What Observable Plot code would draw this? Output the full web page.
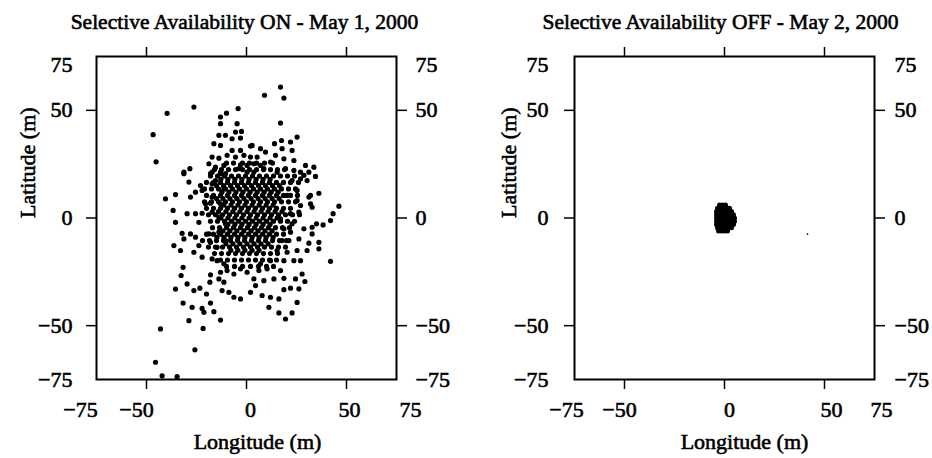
<!DOCTYPE html>
<html><head><meta charset="utf-8">
<script src="https://cdn.jsdelivr.net/npm/d3@7"></script>
<script src="https://cdn.jsdelivr.net/npm/@observablehq/plot@0.6"></script>
<style>
html,body{margin:0;padding:0;background:#fff;overflow:hidden;width:932px;height:458px}
#wrap{position:relative;width:932px;height:458px}
.panel{position:absolute;top:0;width:466px;height:458px}
.panel svg{max-width:none !important}
.panel svg text{font-family:"Liberation Serif","Times New Roman",serif;fill:#000;stroke:#000;stroke-width:0.6px}
</style></head>
<body><div id="wrap"><div class="panel" id="p1" style="left:0"></div><div class="panel" id="p2" style="left:466px"></div></div>
<script>
// ---------- data ----------
const titleOn = "Selective Availability ON - May 1, 2000";
const titleOff = "Selective Availability OFF - May 2, 2000";
const xAxisTitle = "Longitude (m)";
const yAxisTitle = "Latitude (m)";
const domain = [-75, 75];
const majorTicks = [-50, 0, 50];
const tickLabels = [-75, -50, 0, 50, 75];

// SA ON: scattered fixes [longitude, latitude] in metres
const saOnOuter = [
  [17,60.8],[9,57],[18.7,55.7],[-26.3,51.5],[-39.7,48.6],[-46.7,38.7],[-45.2,26.1],[17,44.1],
  [-13,46.9],[-10,48.7],[-4.2,50.8],[-13,43.8],[-4.7,43.8],[-5.5,39.9],[-2.5,40.2],[-13.8,38.4],[-10.5,38.4],
  [-7.2,36.8],[-3,37.1],[-16.3,34.5],[-13,33.7],[-7.2,31.4],[-3,31.4],[2,33.4],[-17.2,28.3],[-13.8,27.8],
  [-9.7,29.1],[-5.5,28.3],[-1.3,29.1],[2,28.3],[-18.8,25.2],[-15.5,23.6],[-11.3,24.4],[-3,24.7],[0.3,24.4],
  [3.7,25.2],[-17.2,21.3],[-13,21.3],[-10.5,20.6],[-3.8,22.9],[0.3,21.3],[-31.3,21.3],[-28.3,22.9],
  [25.3,37.6],[22,35.3],[17.5,36],[14,34.5],[7,32.2],[2.8,33.7],[22.8,31.4],[17.8,32.2],[14.5,29.1],
  [18.7,27.5],[23.7,26.7],[29.5,24.4],[33.7,23.6],[31.2,21.3],[9.5,30.6],[12,26],[5.3,28.3],[7,24.4],
  [19.5,22.9],[23.7,22.1],[27,21.3],[15.3,21.3],[3.7,21.3],[8.7,22.9],
  [-40.5,8.9],[-35.5,10.9],[-36.7,3.5],[-35.5,-2],[-32.2,-7.1],[-28,-7.4],[-36.3,-12.8],[-33,-15.1],
  [-31.3,-9.7],[-25.5,-8.9],[-23.8,-12.8],[-26.3,-15.9],[-22.2,-18.2],[-18,-11.3],[-18.8,-7.4],[-13.8,-6.6],
  [-31.7,-22.9],[-29.7,2],[-25.5,2],[-22.2,2.2],[-23.8,-2],[-17.2,2.7],[-18,6.9],[-20.5,6.6],[-28,9.7],
  [-25.5,12],[-31.3,20.6],[-28.8,16.7],[-23,15.1],[-22.2,12.8],[-17.2,15.9],[-15.5,17.4],[-18,20.6],
  [-13,20.6],[-11.3,13.6],[-17.2,9.7],[-13,6.6],[-13.8,0.4],[-10.5,-2.7],[-10.5,-10.5],[-14.7,-13.6],
  [-14.7,-19.8],[-17.2,-19],[-11.3,-21.3],
  [46.2,5.5],[43.3,2],[42,-1.2],[42,-20.1],[36.2,11.5],[32,10.5],[32.8,5],[26.2,2.7],[25.3,8.1],[35,-2.7],
  [38.3,-3.2],[32.8,-4.3],[28.7,-5],[32.8,-7.4],[36.2,-11.3],[31.2,-11.7],[36.2,-14.3],[30.3,-15.1],
  [25.3,-15.1],[23.7,-19.8],[27,-19.8],[20.3,-15.9],[18.7,-19.8],[22.8,-2.7],[22,-6.6],[26.2,-9.7],
  [21.2,-10.5],[30.3,17.4],[27,18.2],[34.5,19.3],[31.2,9.7],[25.3,12.8],[28.7,19.8],[32,6.6],[27,5.8],
  [22.8,17.4],[20.3,10.5],[22,2],[17,-0.4],[18.7,-5],[17.8,-10.5],[15.3,-15.1],[12,-19.8],[7,-21.3],
  [-45.5,-67],[-42.2,-73.3],[-34.7,-73.7],[-25.8,-61.2],[-43,-51.5],[-21.7,-51.3],[-28.8,-47.7],[-13,-47.4],
  [-32.7,-26.7],[-35.5,-33],[-29.7,-30.6],[-26.3,-33.7],[-23.3,-32.6],[-20,-35.3],[-18.3,-29.8],[-18,-26.4],
  [-31.7,-39.5],[-27.2,-41.5],[-22.2,-42],[-21.3,-43.8],[-18,-39.5],[-16.3,-43.5],
  [-13,-25.2],[-9.7,-24.4],[-6.3,-26],[-3,-23.6],[0.3,-25.2],[3.7,-28.3],[-11.3,-29.8],[-12.2,-33.7],
  [-8.8,-34.5],[-6.3,-36.8],[-3,-37.6],[2,-34.5],[-13.8,-28.3],
  [29.2,-29.5],[27.8,-26],[24.5,-28.3],[26.2,-32.9],[22,-32.6],[18.7,-33.3],[25.3,-39.2],[22.8,-44.1],
  [19.5,-46.9],[16.2,-44.1],[11.2,-41.5],[16.2,-37.6],[12,-36.8],[7.8,-36],[4.5,-31.4],[8.7,-29.1],
  [13.7,-28.3],[18.7,-28],[10.3,-23.6],[6.2,-24.4],[17,-24.4]
];
// SA ON: dense core, read row by row [latitude, [longitudes]]
const saOnCoreRows = [
  [25.5,[-10,-6.5,-2,1.5,5,9,13]],
  [22.5,[-16,-12.5,-9,-5.5,-2,1.5,5,8.5,12,15.5,19]],
  [19.5,[-18,-14.5,-11,-7.5,-4,-0.5,3,6.5,10,13.5,17,20.5,24]],
  [18,[-12.8,-9.3,-5.8,-2.3,1.3,4.8,8.3,11.8]],
  [16.5,[-20,-16.5,-13,-9.5,-6,-2.5,1,4.5,8,11.5,15,18.5,22,26]],
  [15,[-15,-11.5,-8,-4.5,-1,2.5,6,9.5,13,16.5]],
  [13.5,[-21,-17.5,-14,-10.5,-7,-3.5,0,3.5,7,10.5,14,17.5,21,24.5]],
  [12,[-12.3,-8.8,-5.3,-1.8,1.8,5.3,8.8,12.3,15.8]],
  [10.5,[-20,-16.5,-13,-9.5,-6,-2.5,1,4.5,8,11.5,15,18.5,22,25.5]],
  [9,[-15,-11.8,-8.3,-4.8,-1.3,2.3,5.8,9.3,12.8,16.3]],
  [7.5,[-21,-17.5,-14,-10.5,-7,-3.5,0,3.5,7,10.5,14,17.5,21,24.5]],
  [6,[-11.3,-7.8,-4.3,-0.8,2.8,6.3,9.8,13.3]],
  [4.5,[-20,-16.5,-13,-9.5,-6,-2.5,1,4.5,8,11.5,15,18.5,22]],
  [3,[-14,-10.3,-6.8,-3.3,0.3,3.8,7.3,10.8,14.3,17.8]],
  [1.5,[-19,-15.5,-12,-8.5,-5,-1.5,2,5.5,9,12.5,16,19.5,23,26.5]],
  [0,[-12.8,-9.3,-5.8,-2.3,1.3,4.8,8.3,11.8,15.3]],
  [-1.5,[-18,-14.5,-11,-7.5,-4,-0.5,3,6.5,10,13.5,17,20.5,24]],
  [-3,[-9.3,-5.8,-2.3,1.3,4.8,8.3,11.8]],
  [-4.5,[-17,-13.5,-10,-6.5,-3,0.5,4,7.5,11,14.5,18,21.5]],
  [-6,[-11.8,-8.3,-4.8,-1.3,2.3,5.8,9.3,12.8]],
  [-7.5,[-20,-16.5,-13,-9.5,-6,-2.5,1,4.5,8,11.5,15,18.5]],
  [-9,[-14.8,-11.3,-7.8,-4.3,-0.8,2.8,6.3,9.8,13.3]],
  [-10.5,[-22,-18.5,-15,-11.5,-8,-4.5,-1,2.5,6,9.5,13,16.5,20]],
  [-12,[-10.3,-6.8,-3.3,0.3,3.8,7.3,10.8]],
  [-13.5,[-19,-15.5,-12,-8.5,-5,-1.5,2,5.5,9,12.5,16,19.5]],
  [-15,[-7.8,-4.3,-0.8,2.8,6.3]],
  [-16.5,[-16,-12.5,-9,-5.5,-2,1.5,5,8.5,12,15.5]],
  [-19.5,[-13,-9.5,-6,-2.5,1,4.5,8,11.5,15]],
  [-22.5,[-10,-6,-2,2,6,10,13.5]]
];
// SA OFF: tight cluster, read row by row [latitude, [longitudes]]
const saOffRows = [
  [6,[-2.5,-1,0.5]],
  [4.5,[-3.5,-2,-0.5,1,2.5]],
  [3,[-4,-2.5,-1,0.5,2,3.5]],
  [1.5,[-4,-2.5,-1,0.5,2,3.5,4.5]],
  [0,[-4,-2.5,-1,0.5,2,3.5,5]],
  [-1.5,[-4,-2.5,-1,0.5,2,3.5,5]],
  [-3,[-4,-2.5,-1,0.5,2,3.5,4.5]],
  [-4.5,[-3.5,-2,-0.5,1,2.5,3.5]],
  [-6,[-3,-1.5,0,1.5]]
];
const saOffStray = [[41.5,-7.5]];

// ---------- build ----------
const rowsToPoints = rows => rows.flatMap(([lat, lons]) => lons.map(lon => [lon, lat]));
const saOnPoints = saOnOuter.concat(rowsToPoints(saOnCoreRows));
const saOffPoints = rowsToPoints(saOffRows);
const fmt = v => v < 0 ? "\u2212" + Math.abs(v) : String(v);

const panels = [
  {el: "p1", title: titleOn, mL: 96, mR: 70, titleDx: -2, xTitleDx: 11, yTitleDx: -69,
   padL: 24, padR: 19, xDx: [-16, -10, 4, 3, 14], sets: [[saOnPoints, 2.6]]},
  {el: "p2", title: titleOff, mL: 108, mR: 58, titleDx: -4, xTitleDx: 20, yTitleDx: -66,
   padL: 26, padR: 20, xDx: [-8, -5, 5, 7, 7], sets: [[saOffPoints, 2.5], [saOffStray, 0.8]]}
];

for (const p of panels) {
  const marks = [];
  for (const [pts, r] of p.sets) {
    marks.push(Plot.dot(pts, {x: d => d[0], y: d => d[1], r, fill: "black", stroke: "none"}));
  }
  marks.push(Plot.frame({stroke: "black", strokeWidth: 2}));
  for (const anchor of ["top", "bottom"]) {
    marks.push(Plot.axisX({anchor, ticks: majorTicks, tickSize: 10, tickFormat: () => "", strokeWidth: 1.5, label: null}));
  }
  for (const anchor of ["left", "right"]) {
    marks.push(Plot.axisY({anchor, ticks: majorTicks, tickSize: 10, tickFormat: () => "", strokeWidth: 1.5, label: null}));
  }
  // x tick labels
  tickLabels.forEach((v, i) => {
    marks.push(Plot.text([v], {x: d => d, frameAnchor: "bottom", text: fmt, dy: 30, dx: p.xDx[i],
      lineAnchor: "middle", fontSize: 22}));
  });
  // y tick labels (left & right)
  for (const [side, pad, ta] of [["left", -p.padL, "end"], ["right", p.padR, "start"]]) {
    marks.push(Plot.text(tickLabels.filter(v => v !== 75), {y: d => d, frameAnchor: side, text: fmt,
      textAnchor: ta, dx: pad, lineAnchor: "middle", fontSize: 22}));
    marks.push(Plot.text([75], {y: d => d, frameAnchor: side, text: fmt,
      textAnchor: ta, dx: pad, dy: 8, lineAnchor: "middle", fontSize: 22}));
  }
  // titles
  marks.push(Plot.text([p.title], {frameAnchor: "top", text: d => d, lineAnchor: "bottom", dy: -27.5, dx: p.titleDx, fontSize: 21.5}));
  marks.push(Plot.text([xAxisTitle], {frameAnchor: "bottom", text: d => d, lineAnchor: "bottom", dy: 69, dx: p.xTitleDx, fontSize: 22}));
  marks.push(Plot.text([yAxisTitle], {frameAnchor: "left", text: d => d, lineAnchor: "middle", rotate: -90, dx: p.yTitleDx, fontSize: 22}));

  const chart = Plot.plot({
    width: 466, height: 458,
    marginLeft: p.mL, marginRight: p.mR, marginTop: 56, marginBottom: 79,
    x: {domain, label: null},
    y: {domain, label: null},
    style: {fontFamily: "Liberation Serif, serif", background: "white", color: "black"},
    marks
  });
  document.getElementById(p.el).appendChild(chart);
}
</script>
</body></html>
